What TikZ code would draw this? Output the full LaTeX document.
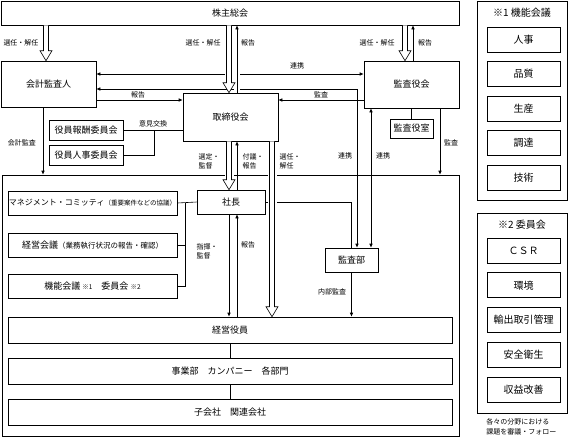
\documentclass[tikz,border=0pt]{standalone}
\usepackage{fontspec}
\setmainfont{Noto Sans CJK JP}
\usepackage{tikz}
\usetikzlibrary{calc,positioning,arrows.meta}

% hollow (double) arrow pointing down, from #1 to #2
\newcommand{\HollowDown}[2]{%
  \draw[white, line width=9pt, shorten <=1.5pt, shorten >=10pt] (#1) -- (#2);
  \draw[fill=white] let \p1=(#1), \p2=(#2) in
    (\x1-2.5pt,\y1) -- (\x2-2.5pt,\y2+10pt) -- (\x2-6pt,\y2+10pt) -- (\x2,\y2)
    -- (\x2+6pt,\y2+10pt) -- (\x2+2.5pt,\y2+10pt) -- (\x1+2.5pt,\y1);
}
\newcommand{\SmallTxt}[1]{{\fontsize{6.5}{8}\selectfont #1}}

\begin{document}
\begin{tikzpicture}[x=1pt, y=-1pt, line width=0.6pt,
  box/.style={draw, fill=white, inner sep=0pt, align=center, font=\fontsize{9}{11}\selectfont},
  pbox/.style={box, minimum width=73pt, minimum height=25pt, font=\fontsize{10}{12}\selectfont},
  lbl/.style={inner sep=0pt, align=left, font=\fontsize{7}{9}\selectfont},
  >={Latex[length=4pt,width=3.5pt]}]
\useasboundingbox (0,0) rectangle (568,437);

% helper coordinates
\coordinate (r1) at (0,74);
\coordinate (r2) at (357,89);
\coordinate (r3) at (0,100);
\coordinate (xk) at (46,0);
\coordinate (xm) at (43,0);
\coordinate (xa) at (229,0);
\coordinate (xb) at (237,0);
\coordinate (xc) at (272,0);
\coordinate (xu) at (371,0);
\coordinate (xs) at (405,0);
\coordinate (xt) at (413,0);
\coordinate (xv) at (440,0);
\coordinate (brk) at (185,203);
\coordinate (jn) at (154,130.5);

% top organs
\node[box, minimum width=458pt, minimum height=24pt] (kabu) at (230,13) {株主総会};
\node[box, minimum width=95pt, minimum height=46pt] (kaikei) at (48.5,84) {会計監査人};
\node[box, minimum width=95pt, minimum height=48pt] (torishimari) at (230.5,117) {取締役会};
\node[box, minimum width=95pt, minimum height=47pt] (kansayaku) at (411.5,84.5) {監査役会};
\node[box, minimum width=43pt, minimum height=19pt] (kansashitsu) at (411.5,128.5) {監査役室};
\node[box, minimum width=74pt, minimum height=20pt] (housyu) at (86,130.5) {役員報酬委員会};
\node[box, minimum width=74pt, minimum height=20pt] (jinji) at (86,155) {役員人事委員会};

% company frame
\node[draw, minimum width=457pt, minimum height=261pt] (grp) at (230.5,305.5) {};
\node[box, minimum width=68pt, minimum height=24pt] (syacho) at (231,202) {社長};
\node[box, minimum width=169pt, minimum height=24pt, font=\fontsize{8}{10}\selectfont] (mgmt) at (92.5,203)
  {マネジメント・コミッティ\SmallTxt{（重要案件などの協議）}};
\node[box, minimum width=169pt, minimum height=24pt] (keiei) at (92.5,245)
  {経営会議{\fontsize{7.5}{9}\selectfont （業務執行状況の報告・確認）}};
\node[box, minimum width=169pt, minimum height=24pt] (kinou) at (92.5,286)
  {機能会議 \SmallTxt{※1}\quad 委員会 \SmallTxt{※2}};
\node[box, minimum width=53pt, minimum height=24pt] (kansabu) at (351.5,260) {監査部};
\node[box, minimum width=444pt, minimum height=26pt] (yakuin) at (230,330) {経営役員};
\node[box, minimum width=444pt, minimum height=26pt] (jigyo) at (230,371) {事業部　カンパニー　各部門};
\node[box, minimum width=444pt, minimum height=26pt] (kogaisha) at (230,412) {子会社　関連会社};

% side panels
\node[draw, minimum width=90pt, minimum height=199pt] (pnl1) at (522,100.5) {};
\node[lbl, font=\fontsize{10}{12}\selectfont] (pnl1t) at (522,13) {※1 機能会議};
\foreach \name [count=\i from 0] in {人事,品質,生産,調達,技術}
  \node[pbox] (fn\i) at (523.5,39.5+34.5*\i) {\name};
\node[draw, minimum width=90pt, minimum height=200pt] (pnl2) at (522,313) {};
\node[lbl, font=\fontsize{10}{12}\selectfont] (pnl2t) at (522,225) {※2 委員会};
\foreach \name [count=\i from 0] in {ＣＳＲ,環境,輸出取引管理,安全衛生,収益改善}
  \node[pbox] (cm\i) at (523.5,250.5+34.75*\i) {\name};
\node[lbl, anchor=west, font=\fontsize{7}{10}\selectfont] (note) at (486,427) {各々の分野における\\課題を審議・フォロー};

% plain connectors
\draw[<->] (kaikei.east |- r1) -- (kansayaku.west |- r1);
\draw[<->] (kaikei.east |- r2) -| (kansabu.north -| r2);
\draw[->] (kaikei.east |- r3) -- (torishimari.west |- r3);
\draw[->] (kansayaku.west |- r3) -- (torishimari.east |- r3);
\draw[<->] (kansayaku.south -| xu) -- (kansabu.north -| xu);
\draw (kansayaku) -- (kansashitsu);
\draw[->] (kansayaku.south -| xv) -- (grp.north -| xv);
\draw[->] (kaikei.south -| xm) -- (grp.north -| xm);
\draw (housyu.east) -- (torishimari.west |- housyu.east);
\draw (jinji.east) -| (jn);
\draw (mgmt.east) -- (syacho.west);
\draw (kinou.east) -| (brk);
\draw (keiei.east) -- (keiei.east -| brk);
\draw (syacho.east) -| (kansabu.north);
\draw[->] (kansabu.south) -- (yakuin.north -| kansabu.south);
\draw[->] (syacho.south -| xa) -- (yakuin.north -| xa);
\draw[<-] (syacho.south -| xb) -- (yakuin.north -| xb);
\draw[<-] (torishimari.south -| xb) -- (syacho.north -| xb);
\draw (yakuin) -- (jigyo);
\draw (jigyo) -- (kogaisha);
\draw[<-] (kabu.south -| xt) -- (kansayaku.north -| xt);
\draw[white, line width=6pt, shorten <=6pt, shorten >=2pt] (kabu.south -| xb) -- (torishimari.north -| xb);
\draw[<-] (kabu.south -| xb) -- (torishimari.north -| xb);

% hollow arrows
\HollowDown{kabu.south -| xk}{kaikei.north -| xk}
\HollowDown{kabu.south -| xa}{torishimari.north -| xa}
\HollowDown{kabu.south -| xs}{kansayaku.north -| xs}
\HollowDown{torishimari.south -| xa}{syacho.north -| xa}
\HollowDown{torishimari.south -| xc}{yakuin.north -| xc}

% labels
\node[lbl] (l1) at (21,43) {選任・解任};
\node[lbl] (l2) at (203,43) {選任・解任};
\node[lbl] (l3) at (248,43) {報告};
\node[lbl] (l4) at (377,43) {選任・解任};
\node[lbl] (l5) at (425,43) {報告};
\node[lbl] (l6) at (297,66) {連携};
\node[lbl] (l7) at (138,95) {報告};
\node[lbl] (l8) at (321,95) {監査};
\node[lbl] (l9) at (153,124) {意見交換};
\node[lbl] (l10) at (22,143) {会計監査};
\node[lbl] (l11) at (451,143) {監査};
\node[lbl] (l12) at (209,161) {選定・\\監督};
\node[lbl] (l13) at (253,161) {付議・\\報告};
\node[lbl] (l14) at (290,161) {選任・\\解任};
\node[lbl] (l15) at (345,156) {連携};
\node[lbl] (l16) at (383,156) {連携};
\node[lbl] (l17) at (207,251) {指揮・\\監督};
\node[lbl] (l18) at (248,245) {報告};
\node[lbl] (l19) at (332,292) {内部監査};
\end{tikzpicture}
\end{document}
